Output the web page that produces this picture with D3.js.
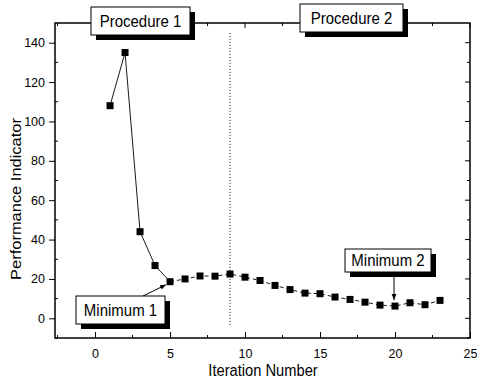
<!DOCTYPE html>
<html>
<head>
<meta charset="utf-8">
<title>Performance Indicator vs Iteration</title>
<script src="https://d3js.org/d3.v7.min.js"></script>
<style>
  body { margin: 0; background: #fff; }
  text { font-family: "Liberation Sans", Arial, sans-serif; fill: #000; }
</style>
</head>
<body>
<script>
  // data
  var iterations = [1, 2, 3, 4, 5, 6, 7, 8, 9, 10, 11, 12, 13, 14, 15, 16, 17, 18, 19, 20, 21, 22, 23];
  var perf = [108, 135, 44, 26.8, 18.6, 20, 21.5, 21.4, 22.5, 20.9, 19.2, 16.7, 14.6, 12.8, 12.5, 10.8, 9.6, 8.2, 6.7, 6.2, 7.9, 6.9, 9.1];
  var xTicks = [0, 5, 10, 15, 20, 25];
  var yTicks = [0, 20, 40, 60, 80, 100, 120, 140];
  var switchAt = 9;      // procedure boundary (dotted line)
  var min1 = 5, min2 = 20;

  var W = 477, H = 385;
  var m = { left: 55, right: 7, top: 23, bottom: 47 };

  var svg = d3.select("body").append("svg")
    .attr("width", W).attr("height", H);

  var x = d3.scaleLinear().domain([-2.67, 25]).range([m.left, W - m.right]);
  var y = d3.scaleLinear().domain([-10, 150]).range([H - m.bottom, m.top]);

  var pts = iterations.map(function (d, i) { return { x: d, y: perf[i] }; });

  // frame
  svg.append("rect")
    .attr("x", x.range()[0]).attr("y", y.range()[1])
    .attr("width", x.range()[1] - x.range()[0])
    .attr("height", y.range()[0] - y.range()[1])
    .attr("fill", "none").attr("stroke", "#000").attr("stroke-width", 1.5);

  // axes
  var xAxis = d3.axisBottom(x).tickValues(xTicks).tickSize(-6).tickPadding(12);
  var gx = svg.append("g").attr("transform", "translate(0," + y.range()[0] + ")").call(xAxis);
  gx.select(".domain").remove();
  gx.selectAll("text").attr("font-size", 12.5).attr("dy", "0.6em");

  var yAxis = d3.axisLeft(y).tickValues(yTicks).tickSize(6).tickPadding(4);
  var gy = svg.append("g").attr("transform", "translate(" + x.range()[0] + ",0)").call(yAxis);
  gy.select(".domain").remove();
  gy.selectAll("text").attr("font-size", 12.5);

  // minor ticks
  var minorX = d3.range(-2.5, 25, 2.5).filter(function (d) { return d % 5 !== 0; });
  var minorY = d3.range(-10, 150, 10).filter(function (d) { return d % 20 !== 0; });
  svg.append("g").selectAll("line").data(minorX).join("line")
    .attr("x1", x).attr("x2", x)
    .attr("y1", y.range()[0]).attr("y2", y.range()[0] - 3)
    .attr("stroke", "#000");
  svg.append("g").selectAll("line").data(minorY).join("line")
    .attr("x1", x.range()[0]).attr("x2", x.range()[0] + 3)
    .attr("y1", y).attr("y2", y)
    .attr("stroke", "#000");
  // top and right ticks
  svg.append("g").selectAll("line").data(xTicks.concat(minorX)).join("line")
    .attr("x1", x).attr("x2", x)
    .attr("y1", y.range()[1]).attr("y2", function (d) { return y.range()[1] + (d % 5 === 0 ? 5 : 3); })
    .attr("stroke", "#000");
  svg.append("g").selectAll("line").data(yTicks.concat(minorY)).join("line")
    .attr("x1", x.range()[1]).attr("x2", function (d) { return x.range()[1] - (d % 20 === 0 ? 5 : 3); })
    .attr("y1", y).attr("y2", y)
    .attr("stroke", "#000");

  // axis titles (the scan is slightly stretched vertically)
  svg.append("text")
    .attr("transform", "translate(263,376) scale(1,1.12)")
    .attr("text-anchor", "middle").attr("font-size", 14.7)
    .text("Iteration Number");
  svg.append("text")
    .attr("transform", "translate(21,199) rotate(-90) scale(1.12,1)")
    .attr("text-anchor", "middle").attr("font-size", 14.7)
    .text("Performance Indicator");

  // procedure boundary
  svg.append("line")
    .attr("x1", x(switchAt)).attr("x2", x(switchAt))
    .attr("y1", y(145)).attr("y2", y(-3.5))
    .attr("stroke", "#000").attr("stroke-width", 1).attr("stroke-dasharray", "1,2");

  var line = d3.line().x(function (d) { return x(d.x); }).y(function (d) { return y(d.y); });

  // procedure 1: solid
  svg.append("path").datum(pts.filter(function (d) { return d.x <= min1; }))
    .attr("d", line).attr("fill", "none").attr("stroke", "#000").attr("stroke-width", 0.9);
  // procedure 2: dashed
  svg.append("path").datum(pts.filter(function (d) { return d.x >= min1; }))
    .attr("d", line).attr("fill", "none").attr("stroke", "#000").attr("stroke-width", 0.9)
    .attr("stroke-dasharray", "4,3");

  svg.append("g").selectAll("rect").data(pts).join("rect")
    .attr("x", function (d) { return x(d.x) - 3.5; })
    .attr("y", function (d) { return y(d.y) - 3.5; })
    .attr("width", 7).attr("height", 7).attr("fill", "#000");

  // label boxes with drop shadow
  function label(bx, by, bw, bh, txt) {
    var g = svg.append("g");
    g.append("rect").attr("x", bx + 5).attr("y", by + 5).attr("width", bw).attr("height", bh).attr("fill", "#000");
    g.append("rect").attr("x", bx).attr("y", by).attr("width", bw).attr("height", bh)
      .attr("fill", "#fff").attr("stroke", "#000").attr("stroke-width", 1);
    g.append("text")
      .attr("transform", "translate(" + (bx + bw / 2) + "," + (by + bh / 2 + 5.5) + ") scale(1,1.1)")
      .attr("text-anchor", "middle").attr("font-size", 15).text(txt);
  }

  svg.append("defs").append("marker")
    .attr("id", "arr").attr("viewBox", "0 0 10 10").attr("refX", 10).attr("refY", 5)
    .attr("markerWidth", 6).attr("markerHeight", 6).attr("orient", "auto")
    .append("path").attr("d", "M0,1L10,5L0,9Z").attr("fill", "#000");

  // arrows to minima
  svg.append("line")
    .attr("x1", 143).attr("y1", 296)
    .attr("x2", x(min1) - 4).attr("y2", y(perf[min1 - 1]) + 3)
    .attr("stroke", "#000").attr("marker-end", "url(#arr)");
  svg.append("line")
    .attr("x1", x(min2) - 1).attr("y1", 272)
    .attr("x2", x(min2) - 1).attr("y2", y(perf[min2 - 1]) - 6)
    .attr("stroke", "#000").attr("marker-end", "url(#arr)");

  label(91, 7, 99, 28, "Procedure 1");
  label(300, 4, 103, 28, "Procedure 2");
  label(76, 296, 89, 28, "Minimum 1");
  label(345, 249, 86, 23, "Minimum 2");
</script>
</body>
</html>
